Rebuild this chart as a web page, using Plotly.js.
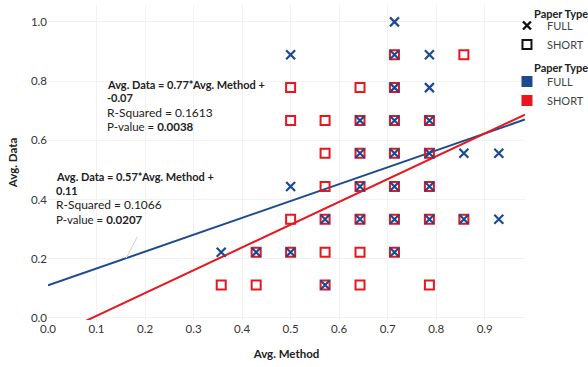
<!DOCTYPE html>
<html>
<head>
<meta charset="utf-8">
<script src="https://cdn.plot.ly/plotly-3.0.1.min.js"></script>
<style>html,body{margin:0;padding:0;background:#fff;}#chart{width:588px;height:367px;}</style>
</head>
<body>
<div id="chart"></div>
<script>
// ---- data ----
const fullX  = [0.714, 0.5, 0.714, 0.786, 0.714, 0.786, 0.643, 0.714, 0.786,
                0.643, 0.714, 0.786, 0.857, 0.929, 0.5, 0.643, 0.714, 0.786,
                0.571, 0.643, 0.714, 0.786, 0.857, 0.929, 0.357, 0.429, 0.5, 0.714, 0.571];
const fullY  = [1.0, 0.889, 0.889, 0.889, 0.778, 0.778, 0.667, 0.667, 0.667,
                0.556, 0.556, 0.556, 0.556, 0.556, 0.444, 0.444, 0.444, 0.444,
                0.333, 0.333, 0.333, 0.333, 0.333, 0.333, 0.222, 0.222, 0.222, 0.222, 0.111];
const shortX = [0.714, 0.857, 0.5, 0.643, 0.714, 0.5, 0.571, 0.643, 0.714, 0.786,
                0.571, 0.643, 0.714, 0.786, 0.571, 0.643, 0.714, 0.786,
                0.5, 0.571, 0.643, 0.714, 0.786, 0.857, 0.429, 0.5, 0.571, 0.643, 0.714,
                0.357, 0.429, 0.571, 0.643, 0.786];
const shortY = [0.889, 0.889, 0.778, 0.778, 0.778, 0.667, 0.667, 0.667, 0.667, 0.667,
                0.556, 0.556, 0.556, 0.556, 0.444, 0.444, 0.444, 0.444,
                0.333, 0.333, 0.333, 0.333, 0.333, 0.333, 0.222, 0.222, 0.222, 0.222, 0.222,
                0.111, 0.111, 0.111, 0.111, 0.111];
const trendNames = ['FULL', 'SHORT'];
const trendSlopes = [0.57, 0.77];
const trendIntercepts = [0.11, -0.07];
const xTickVals = [0, 0.1, 0.2, 0.3, 0.4, 0.5, 0.6, 0.7, 0.8, 0.9];
const xTickText = ['0.0','0.1','0.2','0.3','0.4','0.5','0.6','0.7','0.8','0.9'];
const yTickVals = [0, 0.2, 0.4, 0.6, 0.8, 1.0];
const yTickText = ['0.0','0.2','0.4','0.6','0.8','1.0'];
const legendTitle = 'Paper Type';

const BLUE = '#1c4a92';
const RED = '#e8161e';
const XR = [0, 0.983];
const YR = [-0.007, 1.057];
const FONT = 'Lato, "Open Sans", sans-serif';

const traces = [];
// trend lines
trendNames.forEach((n, i) => {
  traces.push({
    type: 'scatter', mode: 'lines', showlegend: false, hoverinfo: 'skip',
    x: XR, y: XR.map(v => trendSlopes[i] * v + trendIntercepts[i]),
    line: {color: i === 0 ? BLUE : RED, width: 2}
  });
});
// data markers
traces.push({
  type: 'scatter', mode: 'markers', showlegend: false, name: 'SHORT',
  x: shortX, y: shortY,
  marker: {symbol: 'square-open', size: 9, color: RED, line: {width: 2, color: RED}}
});
traces.push({
  type: 'scatter', mode: 'markers', showlegend: false, name: 'FULL',
  x: fullX, y: fullY,
  marker: {symbol: 'x-thin', size: 9, color: BLUE, line: {width: 2.2, color: BLUE}}
});
// legend entries (shape legend)
traces.push({type: 'scatter', mode: 'markers', x: [null], y: [null], name: 'FULL', legend: 'legend',
  marker: {symbol: 'x-thin', size: 8, color: '#111', line: {width: 2.4, color: '#111'}}});
traces.push({type: 'scatter', mode: 'markers', x: [null], y: [null], name: 'SHORT', legend: 'legend',
  marker: {symbol: 'square-open', size: 9, color: '#111', line: {width: 2, color: '#111'}}});
// legend entries (colour legend)
traces.push({type: 'scatter', mode: 'markers', x: [null], y: [null], name: 'FULL', legend: 'legend2',
  marker: {symbol: 'square', size: 11, color: BLUE}});
traces.push({type: 'scatter', mode: 'markers', x: [null], y: [null], name: 'SHORT', legend: 'legend2',
  marker: {symbol: 'square', size: 11, color: RED}});

function px2paperX(px) { return (px - 48) / 477; }
function px2paperY(py) { return (320 - py) / 315; }
function line(px, py, text, size) {
  return {xref: 'paper', yref: 'paper', x: px2paperX(px), y: px2paperY(py),
    xanchor: 'left', yanchor: 'middle', showarrow: false, align: 'left',
    text: text, font: {family: FONT, size: size || 11.5, color: '#222'}};
}
function ctitle(px, py, text) {
  return {xref: 'paper', yref: 'paper', x: px2paperX(px), y: px2paperY(py),
    xanchor: 'left', yanchor: 'middle', showarrow: false, align: 'left',
    text: '<b>' + text + '</b>', font: {family: FONT, size: 11, color: '#222'}};
}

const annotations = [
  line(105, 84, '<b>Avg. Data = 0.77*Avg. Method +</b>', 11),
  line(105, 98, '<b>-0.07</b>', 11),
  line(105, 112, 'R-Squared = 0.1613', 12),
  line(105, 127, 'P-value = <b>0.0038</b>', 11.5),
  line(54, 176, '<b>Avg. Data = 0.57*Avg. Method +</b>', 11),
  line(54, 190, '<b>0.11</b>', 11),
  line(54, 204, 'R-Squared = 0.1066', 12),
  line(54, 219, 'P-value = <b>0.0207</b>', 11.5),
  {xref: 'x', yref: 'y', x: 0.161, y: trendSlopes[0] * 0.161 + trendIntercepts[0], text: '',
   showarrow: true, arrowhead: 0, arrowwidth: 1, arrowcolor: '#cfcfcf', ax: 12, ay: -23, standoff: 0},
  ctitle(532, 13, legendTitle),
  ctitle(532, 68, legendTitle)
];

const legendBase = {xref: 'container', yref: 'container', x: 0.8622, yanchor: 'top', xanchor: 'left',
  bgcolor: 'rgba(0,0,0,0)', font: {size: 11, color: '#444'}, itemwidth: 30, tracegroupgap: 0,
  entrywidth: 38, entrywidthmode: 'pixels'};

const layout = {
  width: 588, height: 367,
  margin: {l: 48, r: 63, t: 5, b: 47, autoexpand: false},
  paper_bgcolor: '#fff', plot_bgcolor: '#fff',
  font: {family: FONT, size: 11, color: '#333'},
  xaxis: {range: XR, tickvals: xTickVals, ticktext: xTickText, showgrid: true, gridcolor: '#f2f2f2',
    zeroline: false, showline: false, ticks: '', tickfont: {size: 11.5, color: '#333'},
    title: {text: '<b>Avg. Method</b>', font: {size: 11.5, color: '#222'}, standoff: 16}},
  yaxis: {range: YR, tickvals: yTickVals, ticktext: yTickText, showgrid: true, gridcolor: '#f2f2f2',
    zeroline: false, showline: false, ticks: '', tickfont: {size: 11.5, color: '#333'},
    title: {text: '<b>Avg. Data</b>', font: {size: 11.5, color: '#222'}, standoff: 10}},
  legend: Object.assign({}, legendBase, {y: 1 - 11 / 367}),
  legend2: Object.assign({}, legendBase, {y: 1 - 67 / 367}),
  annotations: annotations,
  showlegend: true
};

Plotly.newPlot('chart', traces, layout, {displayModeBar: false, staticPlot: true});
</script>
</body>
</html>
